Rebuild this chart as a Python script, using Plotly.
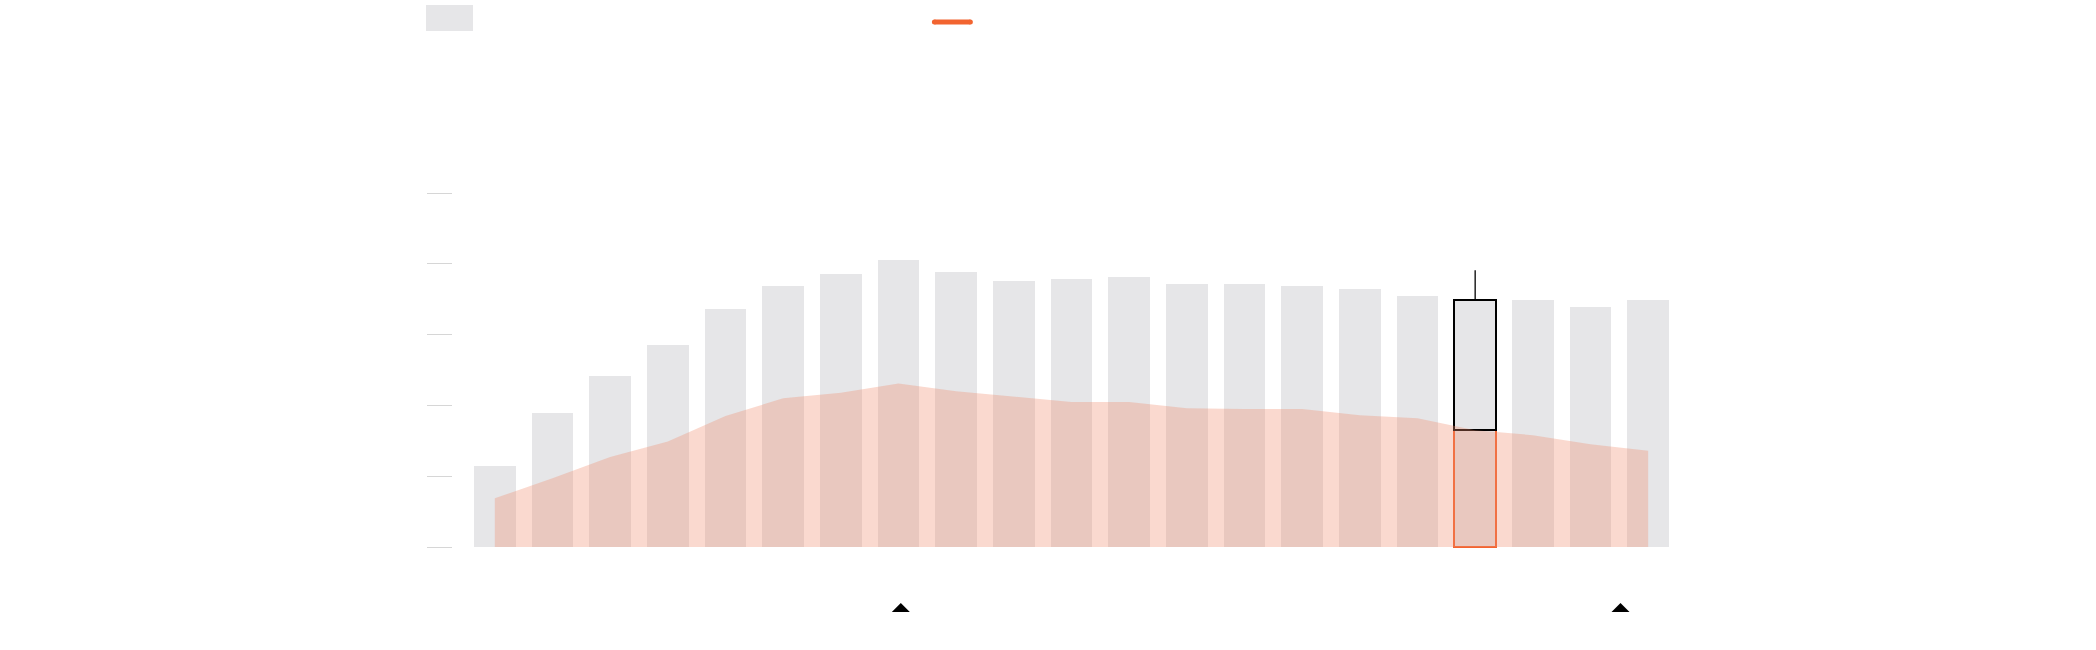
import plotly.graph_objects as go

# ---- data ----
categories = list(range(21))
bar_values = [11.5, 18.9, 24.1, 28.6, 33.6, 36.9, 38.6, 40.5, 38.8, 37.6, 37.9,
              38.2, 37.2, 37.2, 36.9, 36.5, 35.5, 34.9, 34.9, 33.9, 34.9]
area_values = [6.9, 9.7, 12.7, 14.9, 18.5, 21.0, 21.8, 23.1, 22.0, 21.2, 20.5,
               20.5, 19.6, 19.5, 19.5, 18.6, 18.2, 16.5, 15.8, 14.5, 13.6]
highlight_index = 17
highlight_whisker = 39.1
marker_positions = [7.04, 19.52]
y_ticks = [0, 10, 20, 30, 40, 50]

BAR = "#e6e6e8"
ORANGE = "#f26430"

fig = go.Figure()

fig.add_trace(go.Bar(x=categories, y=bar_values, width=0.72,
                     marker=dict(color=BAR, line=dict(width=0)),
                     showlegend=False, hoverinfo="skip"))

fig.add_trace(go.Scatter(x=categories, y=area_values, mode="lines",
                         line=dict(width=0, color="rgba(0,0,0,0)"),
                         fill="tozeroy", fillcolor="rgba(241,140,110,0.33)",
                         showlegend=False, hoverinfo="skip"))

hx = categories[highlight_index]
h_top = bar_values[highlight_index]
h_mid = area_values[highlight_index]

# orange outlined lower box
fig.add_trace(go.Bar(x=[hx], y=[h_mid], base=[0], width=0.72,
                     marker=dict(color="rgba(0,0,0,0)", line=dict(color=ORANGE, width=2)),
                     showlegend=False, hoverinfo="skip"))
# black outlined upper box
fig.add_trace(go.Bar(x=[hx], y=[h_top - h_mid], base=[h_mid], width=0.72,
                     marker=dict(color="rgba(0,0,0,0)", line=dict(color="#000000", width=2)),
                     showlegend=False, hoverinfo="skip"))
# whisker
fig.add_trace(go.Scatter(x=[hx, hx], y=[h_top, highlight_whisker], mode="lines",
                         line=dict(color="#000000", width=1.3),
                         showlegend=False, hoverinfo="skip"))

FW, FH = 2096, 650
L, R = 453.0, 1677.3
T, BOT = 193.0, 632.0


def paper_x(p):
    return (p - L) / (R - L)


def paper_y(p):
    return (BOT - p) / (BOT - T)


shapes = [
    # grey legend swatch
    dict(type="rect", xref="paper", yref="paper",
         x0=paper_x(426), x1=paper_x(473), y0=paper_y(31), y1=paper_y(5),
         fillcolor=BAR, line=dict(width=0), layer="above"),
    # orange legend line with round caps
    dict(type="rect", xref="paper", yref="paper",
         x0=paper_x(934.5), x1=paper_x(970.5), y0=paper_y(24.5), y1=paper_y(19.5),
         fillcolor=ORANGE, line=dict(width=0), layer="above"),
]
for cx in (934.5, 970.5):
    shapes.append(dict(type="circle", xref="paper", yref="paper",
                       xsizemode="pixel", ysizemode="pixel",
                       xanchor=paper_x(cx), yanchor=paper_y(22),
                       x0=-2.5, x1=2.5, y0=-2.5, y1=2.5,
                       fillcolor=ORANGE, line=dict(width=0), layer="above"))
# bottom triangles anchored at data positions
for mx in marker_positions:
    shapes.append(dict(type="path", xref="x", yref="y",
                       xsizemode="pixel", ysizemode="pixel",
                       xanchor=mx, yanchor=0,
                       path="M-9,-65 L9,-65 L0,-56 Z",
                       fillcolor="#000000", line=dict(width=0), layer="above"))

fig.update_layout(
    width=FW, height=FH,
    margin=dict(l=L, r=FW - R, t=T, b=FH - BOT, pad=0),
    paper_bgcolor="white", plot_bgcolor="white",
    barmode="overlay", bargap=0,
    showlegend=False,
    shapes=shapes,
    xaxis=dict(range=[-0.725, 20.5], showgrid=False, zeroline=False, showline=False,
               showticklabels=False, ticks=""),
    yaxis=dict(range=[-12, 50], tickvals=y_ticks, showgrid=False, zeroline=False,
               showline=False, showticklabels=False, ticks="outside", ticklen=25,
               tickwidth=1, tickcolor="#d6d6d6"),
)

fig.write_html("out.html",
               config={"displayModeBar": False},
               post_script="document.body.style.margin='0';document.body.style.overflow='hidden';")
